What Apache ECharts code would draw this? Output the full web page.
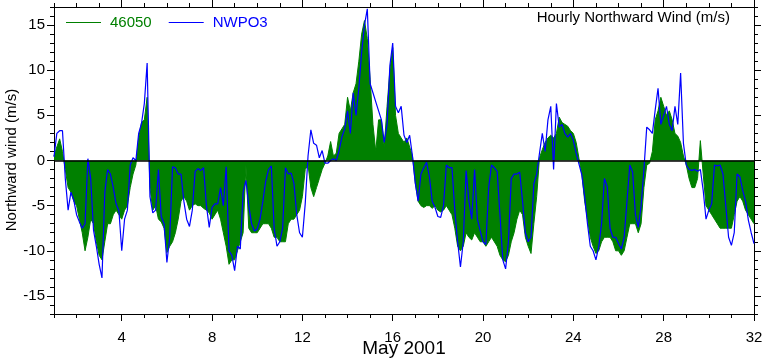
<!DOCTYPE html>
<html><head><meta charset="utf-8">
<script src="https://cdn.jsdelivr.net/npm/echarts@6.0.0/dist/echarts.min.js"></script>
<style>html,body{margin:0;padding:0;background:#fff}#c{width:762px;height:359px}</style>
</head><body><div id="c"></div><script>
// Hourly northward wind, May 2001, sampled every 3 hours starting at day 1.0
const startDay = 1;
const stepHours = 3;
const buoy46050 = [
 0.5, 1.5, 2.4, 1.0, -1.0, -3.0, -3.5, -4.5,
 -5.0, -6.5, -8.0, -10.0, -8.5, -6.5, -7.0, -9.0,
 -10.5, -11.0, -9.0, -7.0, -7.0, -6.0, -5.5, -6.0,
 -6.5, -5.5, -5.0, -3.0, -1.5, -0.5, 2.5, 4.2,
 4.5, 7.0, -3.0, -5.5, -5.0, -6.5, -6.8, -7.5,
 -10.2, -9.5, -9.0, -8.0, -6.5, -4.5, -4.0, -4.5,
 -5.5, -5.0, -4.8, -5.0, -5.0, -5.3, -5.5, -5.8,
 -6.5, -6.0, -5.5, -6.5, -8.0, -9.5, -11.5, -11.0,
 -11.0, -10.0, -9.0, -8.0, -0.5, -7.5, -8.0, -8.0,
 -8.0, -7.5, -7.0, -7.0, -7.0, -7.5, -8.5, -8.5,
 -9.0, -9.0, -9.0, -7.0, -6.5, -6.5, -6.0, -5.5,
 -4.0, -1.0, -0.5, -3.0, -4.0, -3.0, -2.0, -1.0,
 -0.3, 0.5, 2.1, 0.5, 0.8, 3.0, 3.5, 4.0,
 7.0, 5.5, 7.5, 8.5, 11.0, 14.0, 15.5, 13.5,
 9.0, 4.0, 1.0, 4.5, 4.5, 1.5, 6.0, 10.0,
 12.5, 5.0, 3.0, 2.5, 2.0, 2.5, 1.5, 0.5,
 -2.5, -4.5, -5.0, -5.2, -5.0, -5.0, -5.3, -5.0,
 -5.5, -5.7, -5.5, -5.0, -5.5, -6.0, -7.5, -9.5,
 -10.0, -9.5, -8.0, -8.5, -8.8, -8.0, -8.5, -9.0,
 -9.0, -9.5, -9.0, -8.5, -9.0, -9.5, -10.5, -11.0,
 -11.2, -10.5, -9.0, -8.0, -6.5, -5.5, -6.0, -8.5,
 -9.5, -10.3, -7.0, -4.0, 0.3, 1.2, 2.0, 2.5,
 2.8, 2.5, 3.0, 4.8, 4.2, 4.0, 3.8, 3.3,
 3.0, 2.0, 0.2, -1.5, -4.5, -6.5, -8.5, -9.5,
 -10.3, -10.0, -9.0, -8.5, -8.5, -8.5, -9.0, -10.0,
 -10.0, -10.5, -10.0, -8.5, -7.0, -7.0, -7.0, -8.0,
 -7.0, -3.0, -0.5, -0.3, 1.0, 4.5, 5.5, 7.0,
 6.0, 5.0, 5.5, 4.5, 3.0, 2.7, 2.0, 0.5,
 -0.5, -2.0, -3.0, -3.0, -2.0, 2.2, -1.5, -5.0,
 -5.5, -6.0, -6.5, -7.0, -7.5, -7.5, -7.5, -7.5,
 -7.5, -6.0, -4.5, -4.0, -4.5, -5.5, -6.0, -6.5,
 -7.0
];
const nwpo3 = [
 0.4, 3.0, 3.3, 3.3, -2.0, -5.5, -3.5, -4.4,
 -6.0, -6.8, -7.5, -7.0, 0.2, -2.0, -7.7, -9.5,
 -11.5, -13.0, -3.5, -1.0, -1.5, -3.0, -4.8, -5.6,
 -10.0, -6.5, -5.5, -0.5, 0.3, 0.0, 3.0, 4.1,
 6.3, 10.8, -4.0, -5.8, -5.5, -1.0, -6.2, -7.0,
 -11.3, -8.5, -0.7, -0.8, -1.5, -1.5, -4.5, -6.5,
 -7.3, -5.5, -1.2, -0.9, -1.1, -0.8, -5.0, -7.4,
 -5.2, -4.8, -4.8, -3.0, -5.0, -0.7, -10.0, -10.5,
 -12.2, -9.5, -9.8, -3.5, -2.2, -5.0, -7.0, -7.8,
 -7.6, -6.5, -4.5, -2.3, -1.0, -0.6, -7.5, -9.5,
 -9.0, -7.5, -0.8, -1.5, -1.4, -2.5, -6.0, -8.0,
 -8.5, -4.8, 0.5, 3.4, 1.9, 1.7, 0.3, 1.1,
 -0.3, -0.3, 0.0, 0.2, 0.0, 1.1, 2.6, 3.5,
 5.5, 3.0, 7.5, 5.0, 8.0, 12.0, 15.0, 16.8,
 8.5, 7.5, 6.5, 5.5, 4.5, 2.0, 4.0, 10.5,
 13.0, 6.0, 5.3, 6.0, 2.8, 2.0, 2.8, 0.5,
 -2.5, -4.5, -1.5, -0.8, -0.2, -1.8, -4.5, -5.2,
 -6.2, -6.3, -5.0, -0.5, -0.8, -0.8, -5.5, -9.0,
 -11.8, -9.0, -1.1, -4.5, -6.5, -1.0, -6.5, -7.8,
 -9.0, -9.3, -3.0, -0.5, -0.8, -1.2, -6.0, -11.0,
 -12.0, -9.0, -2.0, -1.5, -1.5, -1.3, -4.5, -8.0,
 -9.0, -8.5, -2.6, -1.5, 0.8, 3.0, 1.0, 4.5,
 6.0, -1.0, 6.3, 3.7, 4.0, 3.0, 2.6, 3.0,
 2.2, 0.8, -0.4, -1.6, -4.0, -7.0, -9.5, -10.0,
 -11.0, -9.5, -7.0, -2.0, -2.9, -7.5, -8.5, -8.5,
 -9.2, -9.8, -8.5, -4.5, -0.5, -1.3, -6.0, -7.4,
 -5.0, -1.0, 3.7, 3.4, 3.0, 5.6, 8.0, 4.0,
 5.0, 6.0, 4.0, 3.3, 6.0, 4.0, 9.7, 1.9,
 -0.5, -1.0, -1.1, -1.0, -1.2, -1.0, -3.3, -6.5,
 -5.5, -4.8, -0.5, -0.6, -0.5, -1.5, -5.0, -8.5,
 -9.4, -8.0, -1.5, -1.8, -3.3, -4.5, -6.6, -8.0,
 -9.2
];
const xTickLabels = [4, 8, 12, 16, 20, 24, 28, 32];
const yTickLabels = [-15, -10, -5, 0, 5, 10, 15];
const seriesNames = ['46050', 'NWPO3'];
const xTitle = 'May 2001';
const yTitle = 'Northward wind (m/s)';
const plotTitle = 'Hourly Northward Wind (m/s)';

const FONT = "'Liberation Sans', Arial, Helvetica, sans-serif";
const GREEN = '#008000';
const BLUE = '#0000ff';

function toPairs(vals) {
  return vals.map((v, i) => [startDay + i * stepHours / 24, v]);
}

function xAxisDef(pos, major) {
  const ax = {
    type: 'value', min: 1, max: 32, interval: 1, position: pos, gridIndex: 0,
    axisLine: { show: true, onZero: false, lineStyle: { color: '#000', width: 1 } },
    axisTick: { show: true, inside: false, length: major ? 7 : 4, lineStyle: { color: '#000', width: 1 } },
    axisLabel: { show: false },
    splitLine: { show: false }
  };
  if (major) {
    ax.axisTick.customValues = xTickLabels;
    if (pos === 'bottom') {
      ax.axisLabel = { show: true, customValues: xTickLabels, margin: 16, color: '#000', fontSize: 15, fontFamily: FONT };
    }
  }
  return ax;
}
function yAxisDef(pos, major) {
  const ax = {
    type: 'value', min: -17, max: 17, interval: 1, position: pos, gridIndex: 0,
    axisLine: { show: true, onZero: false, lineStyle: { color: '#000', width: 1 } },
    axisTick: { show: true, inside: false, length: major ? 7 : 4, lineStyle: { color: '#000', width: 1 } },
    axisLabel: { show: false },
    splitLine: { show: false }
  };
  if (major) {
    ax.axisTick.customValues = yTickLabels;
    if (pos === 'left') {
      ax.axisLabel = { show: true, customValues: yTickLabels, margin: 9, color: '#000', fontSize: 15, fontFamily: FONT };
    }
  }
  return ax;
}

const chart = echarts.init(document.getElementById('c'), null, { renderer: 'canvas' });
chart.setOption({
  animation: false,
  backgroundColor: '#fff',
  textStyle: { fontFamily: FONT },
  grid: { left: 54, right: 8, top: 7, bottom: 45, containLabel: false, outerBoundsMode: 'none' },
  xAxis: [xAxisDef('bottom', true), xAxisDef('bottom', false), xAxisDef('top', true), xAxisDef('top', false)],
  yAxis: [yAxisDef('left', true), yAxisDef('left', false), yAxisDef('right', true), yAxisDef('right', false)],
  legend: {
    left: 66, top: 15, padding: 0, itemWidth: 35, itemHeight: 1.2, itemGap: 17, icon: 'rect',
    textStyle: { fontSize: 15, fontFamily: FONT, padding: [0, 0, 0, 4] },
    data: [
      { name: seriesNames[0], itemStyle: { color: GREEN }, textStyle: { color: GREEN } },
      { name: seriesNames[1], itemStyle: { color: BLUE }, textStyle: { color: BLUE } }
    ]
  },
  graphic: [
    {
      type: 'text', right: 32, top: 10,
      style: { text: plotTitle, font: '15px ' + FONT, fill: '#000' }
    },
    {
      type: 'text', x: 404, y: 349,
      style: { text: xTitle, font: '19px ' + FONT, fill: '#000', align: 'center', verticalAlign: 'middle' }
    },
    {
      type: 'text', x: 12, y: 160, rotation: Math.PI / 2,
      style: { text: yTitle, font: '15px ' + FONT, fill: '#000', align: 'center', verticalAlign: 'middle' }
    }
  ],
  series: [
    {
      name: seriesNames[0], type: 'line', xAxisIndex: 0, yAxisIndex: 0,
      data: toPairs(buoy46050), symbol: 'none', showSymbol: false,
      color: GREEN,
      lineStyle: { color: GREEN, width: 1 }, itemStyle: { color: GREEN },
      areaStyle: { color: GREEN, opacity: 1 },
      markLine: {
        silent: true, symbol: 'none', label: { show: false },
        lineStyle: { color: '#000', width: 1.5, type: 'solid' },
        data: [{ yAxis: 0 }]
      },
      z: 2
    },
    {
      name: seriesNames[1], type: 'line', xAxisIndex: 0, yAxisIndex: 0,
      data: toPairs(nwpo3), symbol: 'none', showSymbol: false,
      color: BLUE,
      lineStyle: { color: BLUE, width: 1.2 }, itemStyle: { color: BLUE },
      z: 3
    }
  ]
});
</script></body></html>
